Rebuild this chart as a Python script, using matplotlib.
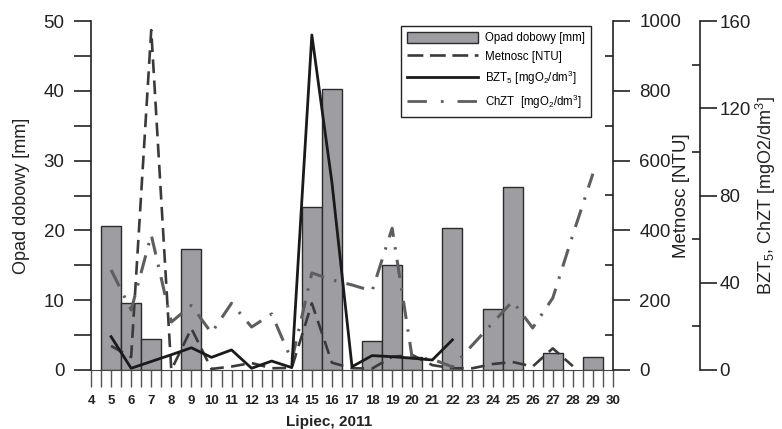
"""Opad dobowy / Metnosc / BZT5 / ChZT - Lipiec 2011."""

import matplotlib.pyplot as plt
import numpy as np
from matplotlib.lines import Line2D
from matplotlib.patches import Patch
from matplotlib.ticker import MultipleLocator

plt.rcParams['font.family'] = ['Liberation Sans', 'DejaVu Sans']
plt.rcParams['mathtext.fontset'] = 'custom'
plt.rcParams['mathtext.rm'] = 'Liberation Sans'
plt.rcParams['mathtext.it'] = 'Liberation Sans:italic'
plt.rcParams['mathtext.bf'] = 'Liberation Sans:bold'
plt.rcParams['mathtext.default'] = 'regular'

# daily rainfall [mm], days 5..29
rain_days = np.arange(5, 30)
rain_mm = [20.6, 9.6, 4.4, 0, 17.3, 0, 0, 0, 0, 0, 23.3, 40.2, 0,
           4.2, 15.0, 1.9, 0, 20.3, 0, 8.7, 26.2, 0, 2.4, 0, 1.8]

# turbidity [NTU], days 5..28
turb_days = np.arange(5, 29)
turb_ntu = [69, 37, 974, 0, 119, 3, 10, 20, 5, 6, 191, 21, 5,
            4, 38, 43, 14, 5, 5, 17, 23, 10, 62, 11]

# BZT5 [mgO2/dm3], days 5..22
bzt_days = np.arange(5, 23)
bzt = [15.3, 0.8, 3.9, 7.0, 10.2, 5.8, 9.2, 0.8, 4.1, 1.1, 153.6, 86.0,
       1.5, 6.6, 6.1, 5.4, 4.6, 13.8]

# ChZT [mgO2/dm3], days 5..29
chzt_days = np.arange(5, 30)
chzt = [45.9, 27.5, 62.0, 22.0, 29.6, 17.0, 30.6, 19.7, 25.7, 4.3, 44.5,
        41.3, 39.0, 36.2, 65.0, 5.5, 5.0, 1.4, 11.5, 21.5, 31.5, 19.3,
        33.0, 62.0, 90.0]

xticks = np.arange(4, 31)

ink = '#222222'
bar_color = '#9e9da2'
turb_style = (0, (5.2, 2.8))
chzt_style = (0, (6, 3.4, 0.8, 3.4))

fig = plt.figure(figsize=(7.82, 4.29), dpi=100)
ax = fig.add_axes([91 / 782, 59 / 429, 522 / 782, 349 / 429])

# bars (skip empty days)
rain = np.array(rain_mm, dtype=float)
mask = rain > 0
ax.bar(rain_days[mask], rain[mask], width=1.0, color=bar_color,
       edgecolor='#2b2b2b', linewidth=1.0, zorder=2)

ax.set_xlim(4, 30)
ax.set_ylim(0, 50)
ax.set_xticks(xticks)
ax.set_xticklabels([str(d) for d in xticks], fontweight='bold')
ax.xaxis.set_minor_locator(MultipleLocator(0.5))
ax.yaxis.set_major_locator(MultipleLocator(10))
ax.yaxis.set_minor_locator(MultipleLocator(5))
ax.tick_params(axis='x', which='both', direction='out', length=12,
               width=1.0, color='#555555', labelsize=9.5, pad=6,
               labelcolor=ink)
ax.tick_params(axis='y', which='both', direction='out', length=12,
               width=1.2, color=ink, labelsize=13.5, pad=7, labelcolor=ink)
ax.spines['top'].set_visible(False)
ax.spines['right'].set_visible(False)
ax.spines['left'].set_linewidth(1.2)
ax.spines['left'].set_color(ink)
ax.spines['bottom'].set_color('#444444')
ax.set_ylabel('Opad dobowy [mm]', fontsize=13, color=ink)
ax.yaxis.set_label_coords(-0.117, 0.5)
ax.set_xlabel('Lipiec, 2011', fontsize=11, fontweight='bold', color=ink)
ax.xaxis.set_label_coords(0.456, -0.128)

# turbidity axis
ax2 = ax.twinx()
ax2.plot(turb_days, turb_ntu, color='#3a3a3a', lw=1.9, ls=turb_style)
ax2.set_ylim(0, 1000)
ax2.yaxis.set_major_locator(MultipleLocator(200))
ax2.yaxis.set_minor_locator(MultipleLocator(100))
ax2.tick_params(which='major', direction='out', length=12, width=1.2,
                color=ink, labelsize=13.5, pad=7, labelcolor=ink)
ax2.tick_params(which='minor', direction='in', length=6, width=1.2, color=ink)
for side in ['left', 'top', 'bottom']:
    ax2.spines[side].set_visible(False)
ax2.spines['right'].set_linewidth(1.2)
ax2.spines['right'].set_color(ink)
ax2.set_ylabel('Metnosc [NTU]', fontsize=13.5, color=ink)
ax2.yaxis.set_label_coords(1.115, 0.5)

# BZT5 / ChZT axis
ax3 = ax.twinx()
ax3.spines['right'].set_position(('outward', 62.6))
ax3.plot(chzt_days, chzt, color='#5e5e5e', lw=2.2, ls=chzt_style)
ax3.plot(bzt_days, bzt, color='#1a1a1a', lw=2.0)
ax3.set_ylim(0, 160)
ax3.yaxis.set_major_locator(MultipleLocator(40))
ax3.yaxis.set_minor_locator(MultipleLocator(20))
ax3.tick_params(which='major', direction='out', length=12, width=1.2,
                color=ink, labelsize=13.5, pad=2, labelcolor=ink)
ax3.tick_params(which='minor', direction='in', length=6, width=1.2, color=ink)
for side in ['left', 'top', 'bottom']:
    ax3.spines[side].set_visible(False)
ax3.spines['right'].set_linewidth(1.2)
ax3.spines['right'].set_color(ink)
ax3.set_ylabel('BZT$_5$, ChZT [mgO2/dm$^3$]', fontsize=13, color=ink)
ax3.yaxis.set_label_coords(1.27, 0.5)

# legend with proxy handles
handles = [
    Patch(facecolor=bar_color, edgecolor='#2b2b2b', linewidth=1.0),
    Line2D([], [], color='#3a3a3a', lw=1.9, ls=(0, (6, 2.5))),
    Line2D([], [], color='#1a1a1a', lw=2.0),
    Line2D([], [], color='#5e5e5e', lw=2.0, ls=(0, (7, 5, 1, 5))),
]
labels = ['Opad dobowy [mm]', 'Metnosc [NTU]',
          'BZT$_5$ [mgO$_2$/dm$^3$]', 'ChZT  [mgO$_2$/dm$^3$]']
leg = ax3.legend(handles, labels, loc='upper left',
                 bbox_to_anchor=(395 / 782, 1 - 20 / 429),
                 bbox_transform=fig.transFigure, fontsize=8.3,
                 handlelength=6.2, handleheight=1.2, labelspacing=0.5,
                 handletextpad=0.6, borderpad=0.5, fancybox=False,
                 framealpha=1, edgecolor='#222222')
leg.get_frame().set_linewidth(1.0)

fig.savefig('out.png', dpi=100)
plt.close(fig)
